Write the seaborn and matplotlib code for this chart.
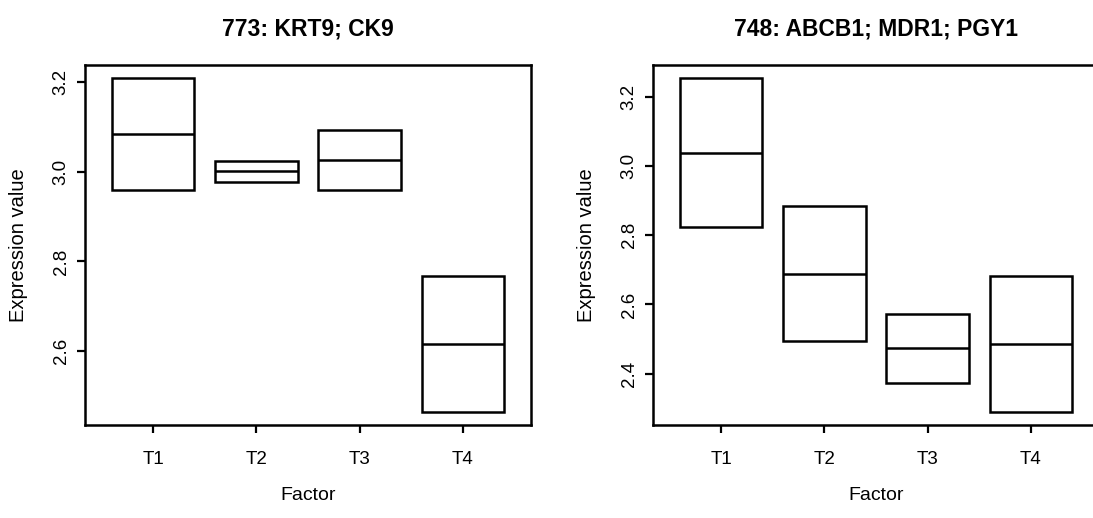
import pandas as pd
import matplotlib
matplotlib.use("Agg")
import matplotlib.pyplot as plt
import seaborn as sns

# two replicate values per treatment (low / high)
factors = ["T1", "T2", "T3", "T4"]

krt9_lo = [2.958, 2.978, 2.958, 2.465]
krt9_hi = [3.208, 3.024, 3.093, 2.768]

abcb1_lo = [2.825, 2.493, 2.374, 2.290]
abcb1_hi = [3.254, 2.885, 2.573, 2.683]

titles = ["773: KRT9; CK9", "748: ABCB1; MDR1; PGY1"]
left_ticks = [2.6, 2.8, 3.0, 3.2]
right_ticks = [2.4, 2.6, 2.8, 3.0, 3.2]


def long_frame(lo, hi):
    # R draws hinges at min/max for n=2; matplotlib interpolates quartiles,
    # so each replicate goes in twice to put the box edges on the values
    rows = []
    for f, a, b in zip(factors, lo, hi):
        for v in (a, a, b, b):
            rows.append({"Factor": f, "value": v})
    return pd.DataFrame(rows)


def draw_panel(ax, lo, hi, title, ticks):
    df = long_frame(lo, hi)
    lw = 1.8
    sns.boxplot(
        data=df, x="Factor", y="value", order=factors, ax=ax,
        color="white", linecolor="black", linewidth=lw, width=0.8,
        showcaps=False, fliersize=0,
        boxprops=dict(facecolor="white", edgecolor="black", linewidth=lw),
        medianprops=dict(color="black", linewidth=lw),
        whiskerprops=dict(color="black", linewidth=lw),
    )
    # R style limits: data range padded by 4%
    ymin, ymax = min(lo), max(hi)
    pad = 0.04 * (ymax - ymin)
    ax.set_ylim(ymin - pad, ymax + pad)
    ax.set_xlim(-0.66, 3.66)
    ax.set_yticks(ticks)
    ax.set_yticklabels([f"{t:.1f}" for t in ticks], rotation=90, va="center")
    ax.tick_params(axis="both", length=6, width=1.6, color="black",
                   labelsize=13.5, labelcolor="black")
    ax.tick_params(axis="x", pad=13)
    ax.tick_params(axis="y", pad=5)
    for s in ax.spines.values():
        s.set_visible(True)
        s.set_linewidth(1.8)
        s.set_color("black")
    ax.set_title(title, fontsize=16.5, fontweight="bold", pad=21, color="black")
    ax.set_xlabel("Factor", fontsize=14, color="black")
    ax.set_ylabel("Expression value", fontsize=14.5, color="black")
    ax.xaxis.set_label_coords(0.5, -0.172)
    ax.yaxis.set_label_coords(-0.128, 0.5)


sns.set_theme(style="ticks")
plt.rcParams["font.family"] = ["Liberation Sans", "DejaVu Sans"]
plt.rcParams["text.color"] = "black"

fig = plt.figure(figsize=(10.93, 5.18), dpi=100)
fig.patch.set_facecolor("white")

ax1 = fig.add_axes([85 / 1093, 93 / 518, 446 / 1093, 360 / 518])
ax2 = fig.add_axes([653 / 1093, 93 / 518, 446 / 1093, 360 / 518])

draw_panel(ax1, krt9_lo, krt9_hi, titles[0], left_ticks)
draw_panel(ax2, abcb1_lo, abcb1_hi, titles[1], right_ticks)

fig.savefig("out.png", dpi=100, facecolor="white")
plt.close(fig)
